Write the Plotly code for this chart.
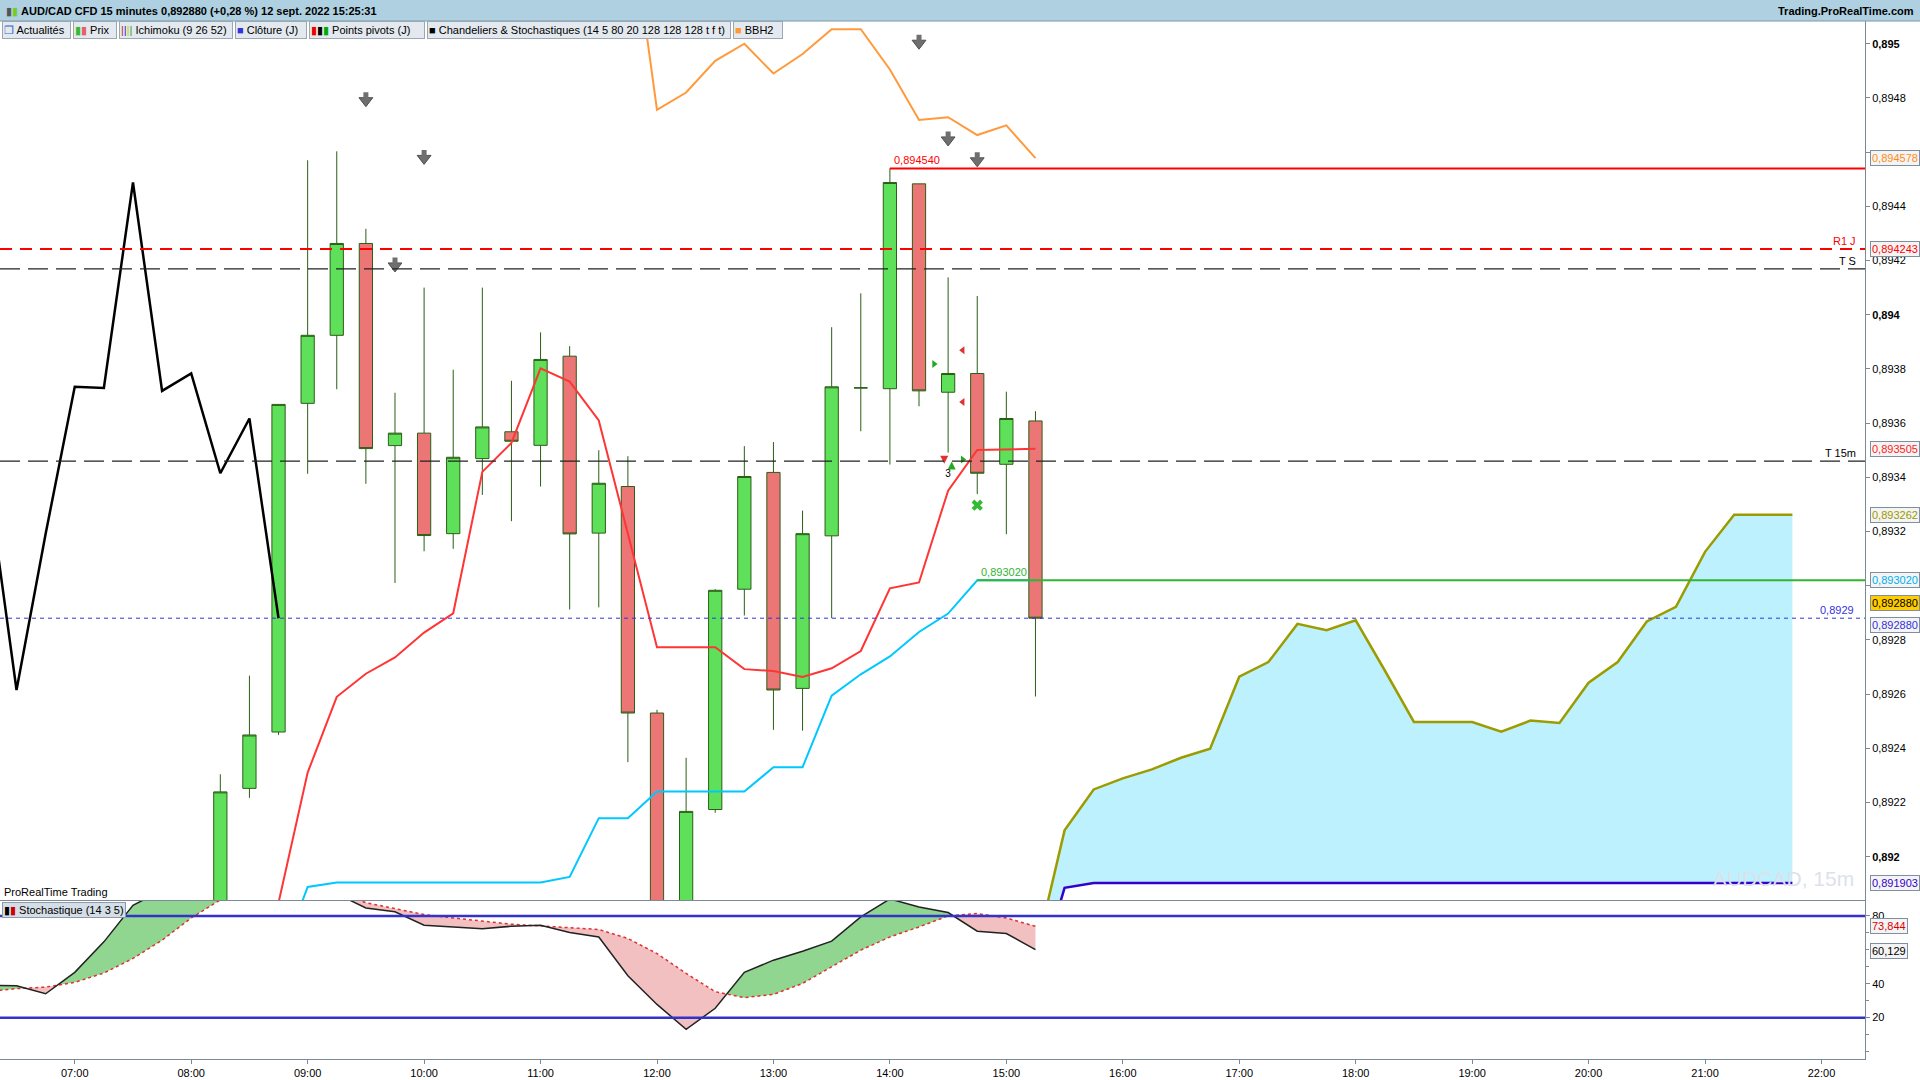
import pandas as pd
import plotly.graph_objects as go
from plotly.subplots import make_subplots

DAY = "2022-09-12 "

# --- candles, 15 min bars from 08:15 to 15:15
opens = [0.89170, 0.892252, 0.892460, 0.893673, 0.893924, 0.894263, 0.893517, 0.893563, 0.893192, 0.893469,
         0.893568, 0.893518, 0.893847, 0.893194, 0.893366, 0.892530, 0.89178, 0.892174, 0.892987, 0.893418,
         0.892621, 0.893184, 0.89373, 0.893727, 0.894483, 0.893714, 0.893783, 0.893448, 0.893608]
highs = [0.892304, 0.892668, 0.893669, 0.894570, 0.894603, 0.894317, 0.893712, 0.894100, 0.893797, 0.894100,
         0.893756, 0.893935, 0.893884, 0.893500, 0.893478, 0.892542, 0.892365, 0.892987, 0.893515, 0.893530,
         0.893277, 0.893954, 0.894079, 0.894540, 0.894483, 0.894138, 0.894069, 0.893716, 0.893644]
lows = [0.89160, 0.892217, 0.892449, 0.893413, 0.893725, 0.893376, 0.893010, 0.893127, 0.893136, 0.893335,
        0.893238, 0.893366, 0.892912, 0.892920, 0.892349, 0.89170, 0.89172, 0.892162, 0.892890, 0.892468,
        0.892465, 0.892880, 0.893570, 0.893447, 0.893662, 0.893491, 0.893338, 0.893190, 0.892591]
closes = [0.892239, 0.892449, 0.893669, 0.893924, 0.894263, 0.893506, 0.893563, 0.893185, 0.893474, 0.893586,
          0.893533, 0.893835, 0.893191, 0.893378, 0.892530, 0.89175, 0.892167, 0.892983, 0.893403, 0.892615,
          0.893192, 0.893734, 0.89373, 0.894488, 0.893719, 0.893783, 0.893415, 0.893617, 0.89288]

# --- ichimoku
tenkan = [0.89150, 0.89183, 0.89231, 0.89259, 0.892675, 0.892735, 0.892827, 0.892898, 0.89342, 0.893527,
          0.893802, 0.893753, 0.89361, 0.893194, 0.892773, 0.892773, 0.892773, 0.892692, 0.892685, 0.892663,
          0.892695, 0.892759, 0.89299, 0.893012, 0.893351, 0.893501, 0.893503, 0.893505]  # from 08:30
kijun = [0.89160, 0.891888, 0.891905, 0.891905, 0.891905, 0.891905, 0.891905, 0.891905, 0.891905, 0.891905,
         0.891925, 0.892142, 0.892142, 0.89224, 0.89224, 0.89224, 0.89224, 0.89233, 0.89233, 0.892594,
         0.892673, 0.892739, 0.892829, 0.892897, 0.89302, 0.89302, 0.89302]  # from 08:45
chikou = [0.893403, 0.892615, 0.893192, 0.893734, 0.89373, 0.894488, 0.893719, 0.893783, 0.893415, 0.893617,
          0.89288]  # from 06:15
senkou_a = [0.89164, 0.892097, 0.892248, 0.892289, 0.892322, 0.892365, 0.892398, 0.892664, 0.892718, 0.892859,
            0.892836, 0.892872, 0.892687, 0.892497, 0.892497, 0.892497, 0.892461, 0.892502, 0.892493, 0.892642,
            0.892718, 0.892868, 0.892922, 0.893125, 0.893262, 0.893262, 0.893262]  # from 15:15
senkou_b = [0.89152, 0.891885] + [0.891903] * 25  # from 15:15

# --- BBH2
bbh2 = [0.89554, 0.894756, 0.89482, 0.894937, 0.895000, 0.89489, 0.894962, 0.895054, 0.895054, 0.894905,
        0.894719, 0.894729, 0.894663, 0.894699, 0.894578]  # from 11:45

# --- stochastic (14 3 5), from 06:15
stoch_k = [39.2, 38.8, 34.1, 46.7, 64.7, 86.3, 95, 98, 99, 98, 99, 97, 93, 84.7, 82.4, 74.5, 73.5, 72.5, 73.9,
           74.5, 70.2, 67.6, 44.7, 27.8, 13.1, 25.5, 46.7, 53.9, 59.2, 65.1, 79.4, 90, 85.3, 82.0, 71.0, 69.6,
           60.129]
stoch_d = [35.5, 37.1, 38.0, 40.8, 46.3, 54.9, 65.7, 78.8, 89.5, 94, 96.5, 96, 94.5, 87.8, 84.3, 80.8, 78.8,
           76.9, 75.1, 74.1, 73.1, 72.0, 66.7, 57.8, 46.1, 35.3, 31.8, 33.7, 40.2, 50.0, 59.8, 67.6, 73.5, 80.0,
           81.4, 78.8, 73.844]

# --- levels
r1_day = 0.894243
top_level = 0.894540
t_s = 0.894169
t_15m = 0.893460
kijun_level = 0.893020
last_price = 0.892880

# candle pattern signals
arrow_times = ["09:30", "09:45", "10:00", "14:15", "14:30", "14:45"]
arrow_prices = [0.894790, 0.894180, 0.894577, 0.895002, 0.894645, 0.894568]
sig_right_t, sig_right_p = ["14:22:45", "14:37:30"], [0.893818, 0.893466]
sig_left_t, sig_left_p = ["14:37:30", "14:37:30"], [0.893869, 0.893678]

price_ticks = [round(0.892 + i * 0.0002, 4) for i in range(16)]
hidden_ticks = [0.8946, 0.893]  # sit behind the value boxes
price_ticktext = []
for i, v in enumerate(price_ticks):
    t = ("%g" % v).replace(".", ",")
    if v in hidden_ticks:
        t = ""
    elif i % 5 == 0:
        t = "<b>%s</b>" % t
    price_ticktext.append(t)
hour_ticks = [DAY + "%02d:00" % h for h in range(7, 23)]
hour_text = ["%02d:00" % h for h in range(7, 23)]

X_START, X_END = DAY + "06:21:29", DAY + "22:22:25"
FONT = "Liberation Sans"
OUTLINE = "#2b5e16"
ARROW_GREY = "#6f6f6f"


def times_from(start, n):
    return list(pd.date_range(DAY + start, periods=n, freq="15min"))


def band_polys(times, upper, lower):
    gx, gy, rx, ry = [], [], [], []
    for i in range(len(times) - 1):
        t0, t1 = times[i], times[i + 1]
        a0, a1, b0, b1 = upper[i], upper[i + 1], lower[i], lower[i + 1]
        d0, d1 = a0 - b0, a1 - b1
        if d0 * d1 < 0:
            f = d0 / (d0 - d1)
            tc = t0 + (t1 - t0) * f
            yc = a0 + (a1 - a0) * f
            segs = [([t0, tc, t0], [a0, yc, b0], d0), ([tc, t1, t1], [yc, a1, b1], d1)]
        else:
            segs = [([t0, t1, t1, t0], [a0, a1, b1, b0], d0 + d1)]
        for xs, ys, s in segs:
            xs = [t.isoformat() for t in xs]
            if s >= 0:
                gx += xs + [None]
                gy += ys + [None]
            else:
                rx += xs + [None]
                ry += ys + [None]
    return gx, gy, rx, ry


fig = make_subplots(rows=2, cols=1, shared_xaxes=True, vertical_spacing=0)

bar_times = times_from("08:15", len(opens))

# cloud
sa_t = times_from("15:15", len(senkou_a))
fig.add_trace(go.Scatter(x=sa_t, y=senkou_b, mode="lines", line=dict(width=0), showlegend=False), 1, 1)
fig.add_trace(go.Scatter(x=sa_t, y=senkou_a, mode="lines", line=dict(color="#9c9c00", width=2.5),
                         fill="tonexty", fillcolor="#bdf1fd", showlegend=False), 1, 1)
fig.add_trace(go.Scatter(x=sa_t, y=senkou_b, mode="lines", line=dict(color="#3300cc", width=2.5),
                         showlegend=False), 1, 1)

fig.add_trace(go.Scatter(x=times_from("06:15", len(chikou)), y=chikou, mode="lines",
                         line=dict(color="black", width=2.5), showlegend=False), 1, 1)
fig.add_trace(go.Scatter(x=times_from("08:45", len(kijun)), y=kijun, mode="lines",
                         line=dict(color="#00c8ff", width=2), showlegend=False), 1, 1)

fig.add_trace(go.Candlestick(x=bar_times, open=opens, high=highs, low=lows, close=closes,
                             increasing=dict(line=dict(color=OUTLINE, width=1), fillcolor="#5fe05a"),
                             decreasing=dict(line=dict(color=OUTLINE, width=1), fillcolor="#ec7676"),
                             whiskerwidth=0, showlegend=False), 1, 1)

fig.add_trace(go.Scatter(x=times_from("08:30", len(tenkan)), y=tenkan, mode="lines",
                         line=dict(color="#ff3535", width=2), showlegend=False), 1, 1)
fig.add_trace(go.Scatter(x=times_from("11:45", len(bbh2)), y=bbh2, mode="lines",
                         line=dict(color="#ff9a3c", width=2), showlegend=False), 1, 1)

# arrow heads of the grey pattern arrows (shafts are annotations below)
fig.add_trace(go.Scatter(x=[DAY + t for t in arrow_times], y=arrow_prices, mode="markers",
                         marker=dict(symbol="triangle-down", size=12, color=ARROW_GREY,
                                     line=dict(color="#505050", width=1)), showlegend=False), 1, 1)

# small signals
fig.add_trace(go.Scatter(x=[DAY + t for t in sig_right_t], y=sig_right_p, mode="markers",
                         marker=dict(symbol="triangle-right", size=7, color="#22aa22"), showlegend=False), 1, 1)
fig.add_trace(go.Scatter(x=[DAY + t for t in sig_left_t], y=sig_left_p, mode="markers",
                         marker=dict(symbol="triangle-left", size=7, color="#dd3333"), showlegend=False), 1, 1)
fig.add_trace(go.Scatter(x=[DAY + "14:28:00", DAY + "14:31:50"], y=[0.893450, 0.893458], mode="markers",
                         marker=dict(symbol=["arrow-down", "arrow-up"], size=8, color=["#dd3333", "#22aa22"]),
                         showlegend=False), 1, 1)
fig.add_trace(go.Scatter(x=[DAY + "14:30"], y=[0.893412], mode="text", text=["3"],
                         textfont=dict(family=FONT, size=10, color="black"), showlegend=False), 1, 1)
fig.add_trace(go.Scatter(x=[DAY + "14:45"], y=[0.893297], mode="markers",
                         marker=dict(symbol="x", size=10, color="#33bb33"), showlegend=False), 1, 1)

# stochastic
st_t = times_from("06:15", len(stoch_k))
gx, gy, rx, ry = band_polys(st_t, stoch_k, stoch_d)
fig.add_trace(go.Scatter(x=gx, y=gy, mode="lines", line=dict(width=0), fill="toself",
                         fillcolor="#90d590", showlegend=False), 2, 1)
fig.add_trace(go.Scatter(x=rx, y=ry, mode="lines", line=dict(width=0), fill="toself",
                         fillcolor="#f2c0c0", showlegend=False), 2, 1)
fig.add_trace(go.Scatter(x=st_t, y=stoch_d, mode="lines", line=dict(color="#e03030", width=1.5, dash="dot"),
                         showlegend=False), 2, 1)
fig.add_trace(go.Scatter(x=st_t, y=stoch_k, mode="lines", line=dict(color="#222222", width=1.5),
                         showlegend=False), 2, 1)

# level lines
shapes = [
    dict(type="line", xref="x", yref="y", x0=DAY + "14:00", x1=X_END, y0=top_level, y1=top_level,
         line=dict(color="#ff0000", width=2)),
    dict(type="line", xref="x", yref="y", x0=X_START, x1=X_END, y0=r1_day, y1=r1_day,
         line=dict(color="#ff0000", width=2, dash="12px,8px")),
    dict(type="line", xref="x", yref="y", x0=X_START, x1=X_END, y0=t_s, y1=t_s,
         line=dict(color="#222222", width=1.3, dash="20px,8px")),
    dict(type="line", xref="x", yref="y", x0=X_START, x1=X_END, y0=t_15m, y1=t_15m,
         line=dict(color="#222222", width=1.3, dash="20px,8px")),
    dict(type="line", xref="x", yref="y", x0=DAY + "14:45", x1=X_END, y0=kijun_level, y1=kijun_level,
         line=dict(color="#33b533", width=2)),
    dict(type="line", xref="x", yref="y", x0=X_START, x1=X_END, y0=last_price, y1=last_price,
         line=dict(color="#3333dd", width=1, dash="4px,4px")),
    dict(type="line", xref="x2", yref="y2", x0=X_START, x1=X_END, y0=80, y1=80,
         line=dict(color="#3333cc", width=2.5)),
    dict(type="line", xref="x2", yref="y2", x0=X_START, x1=X_END, y0=20, y1=20,
         line=dict(color="#3333cc", width=2.5)),
]

PW, PH, PB = 1865.0, 1038.0, 1059.0


def px_x(p):
    return p / PW


def px_y(p):
    return (PB - p) / PH


# title bar
shapes.append(dict(type="rect", xref="paper", yref="paper", x0=0, x1=px_x(1920), y0=px_y(21), y1=px_y(0),
                   fillcolor="#aed0e0", line=dict(width=0), layer="above"))
shapes.append(dict(type="line", xref="paper", yref="paper", x0=0, x1=px_x(1920), y0=px_y(21), y1=px_y(21),
                   line=dict(color="#7c98a8", width=1), layer="above"))

ann = []


def label(text, x, y, xref="x", yref="y", color="black", size=11, xanchor="left", yanchor="bottom", **kw):
    ann.append(dict(text=text, x=x, y=y, xref=xref, yref=yref, showarrow=False, xanchor=xanchor,
                    yanchor=yanchor, font=dict(family=FONT, size=size, color=color), **kw))


# shafts of the grey block arrows
for t, p in zip(arrow_times, arrow_prices):
    ann.append(dict(x=DAY + t, y=p, xref="x", yref="y", text="", showarrow=True, ax=0, ay=-10,
                    arrowhead=0, arrowwidth=5, arrowcolor=ARROW_GREY, standoff=0))

label('<span style="color:#555">&#9646;</span><span style="color:#77cc22">&#9646;</span> '
      '<b>AUD/CAD CFD 15 minutes 0,892880 (+0,28 %) 12 sept. 2022 15:25:31</b>',
      px_x(4), px_y(10.5), "paper", "paper", yanchor="middle", size=11)
label("<b>Trading.ProRealTime.com</b>", px_x(1916), px_y(10.5), "paper", "paper", xanchor="right",
      yanchor="middle", size=11)

buttons = [
    ('<span style="color:#3366cc">&#10064;</span> Actualités', 2, 69),
    ('<span style="color:#33bb33">&#9646;</span><span style="color:#e86060">&#9646;</span> Prix', 73, 44),
    ('<span style="color:#cc2222">|</span><span style="color:#2222cc">|</span><span style="color:#cccc00">|</span>'
     '<span style="color:#22aa22">|</span> Ichimoku (9 26 52)', 119, 114),
    ('<span style="color:#3333dd">&#9632;</span> Clôture (J)', 235, 72),
    ('<span style="color:#ee0000">&#9646;</span><span style="color:#000">&#9646;</span>'
     '<span style="color:#00aa00">&#9646;</span> Points pivots (J)', 309, 116),
    ('<span style="color:#000">&#9632;</span> Chandeliers &amp; Stochastiques (14 5 80 20 128 128 128 t f t)',
     427, 304),
    ('<span style="color:#ff9933">&#9632;</span> BBH2', 733, 50),
]
for txt, x0, w in buttons:
    label(txt, px_x(x0), px_y(21.5), "paper", "paper", yanchor="top", size=11, width=w - 4, height=14,
          align="left", bgcolor="#e3e9ee", bordercolor="#9aa8b4", borderwidth=1, borderpad=1)

# level texts
label("0,894540", DAY + "14:01", top_level, color="#ff0000")
label("0,893020", DAY + "14:46", kijun_level, color="#33b533")
label("R1 J", px_x(1858), r1_day, "paper", "y", color="#ff0000", xanchor="right")
label("T S", px_x(1858), t_s, "paper", "y", xanchor="right")
label("T 15m", px_x(1858), t_15m, "paper", "y", xanchor="right")
label("0,8929", px_x(1856), last_price, "paper", "y", color="#3333dd", xanchor="right")

# value boxes on the price axis
boxes = [
    ("0,894578", 0.894578, "#ff8c1a", "#f4f4f4"),
    ("0,894243", 0.894243, "#ff0000", "#f4f4f4"),
    ("0,893505", 0.893505, "#ff2222", "#f4f4f4"),
    ("0,893262", 0.893262, "#999900", "#f4f4f4"),
    ("0,893020", 0.893020, "#00b0ee", "#f4f4f4"),
    ("0,892880", 0.892935, "#000000", "#ffcc00"),
    ("0,892880", 0.892855, "#3333dd", "#f4f4f4"),
    ("0,891903", 0.891903, "#3300cc", "#f4f4f4"),
]
for txt, yv, c, bg in boxes:
    label(txt, px_x(1870), yv, "paper", "y", color=c, yanchor="middle", bgcolor=bg,
          bordercolor="#7f8f9f", borderwidth=1, borderpad=1)
for txt, yv, c in [("73,844", 73.844, "#dd0000"), ("60,129", 59.6, "#000000")]:
    label(txt, px_x(1870), yv, "paper", "y2", color=c, yanchor="middle", bgcolor="#f4f4f4",
          bordercolor="#7f8f9f", borderwidth=1, borderpad=1)

label("ProRealTime Trading", px_x(2), px_y(900), "paper", "paper", size=11)
label('<span style="color:#000">&#9646;</span><span style="color:#cc0000">&#9646;</span> Stochastique (14 3 5)',
      px_x(2), px_y(902), "paper", "paper", yanchor="top", size=11, bgcolor="#d5dee6",
      bordercolor="#8a9aa8", borderwidth=1, borderpad=1)
label("AUDCAD, 15m", px_x(1856), px_y(878), "paper", "paper", xanchor="right", yanchor="middle",
      size=21, color="#dde1ea")

fig.update_layout(
    width=1920, height=1080,
    margin=dict(l=0, r=55, t=21, b=21),
    paper_bgcolor="white", plot_bgcolor="white",
    showlegend=False, hovermode=False,
    shapes=shapes, annotations=ann,
    font=dict(family=FONT, size=11, color="black"),
    boxgap=0.35,
)
axis_line = "#7b8a99"
fig.update_xaxes(range=[X_START, X_END], showgrid=False, zeroline=False, showline=True, linecolor=axis_line,
                 mirror=True, rangeslider_visible=False, tickvals=hour_ticks, ticktext=hour_text,
                 ticks="outside", ticklen=4, tickcolor=axis_line)
fig.update_xaxes(showticklabels=False, ticks="", row=1, col=1)
fig.update_layout(
    yaxis=dict(domain=[px_y(900), 1], range=[0.891840, 0.895084], side="right", showgrid=False,
               zeroline=False, showline=True, linecolor=axis_line, mirror=True, tickvals=price_ticks,
               ticktext=price_ticktext, ticks="outside", ticklen=4, tickcolor=axis_line),
    yaxis2=dict(domain=[0, px_y(901)], range=[-4.4, 88.8], side="right", showgrid=False, zeroline=False,
                showline=True, linecolor=axis_line, mirror=True, tickvals=[20, 40, 80],
                ticktext=["20", "40", "80"], ticks="outside", ticklen=4, tickcolor=axis_line,
                minor=dict(dtick=10, tick0=0, ticks="outside", ticklen=3, tickcolor=axis_line)),
)

fig.write_html("out.html", config={"displayModeBar": False},
               post_script="document.body.style.margin='0';")
